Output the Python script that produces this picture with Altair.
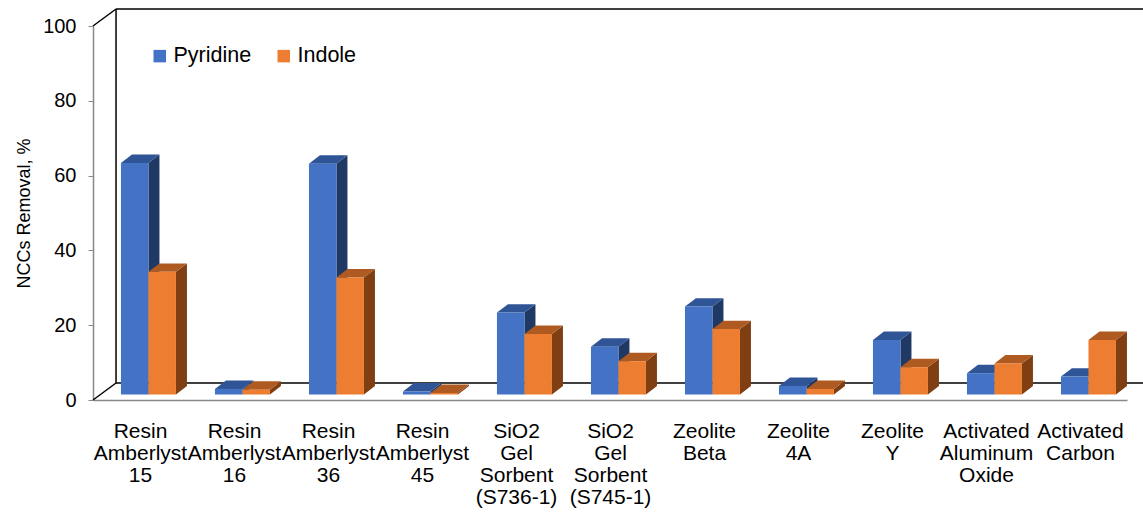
import json

import altair as alt
import pandas as pd

# ---- data -----------------------------------------------------------------
materials = [
    ["Resin", "Amberlyst", "15"],
    ["Resin", "Amberlyst", "16"],
    ["Resin", "Amberlyst", "36"],
    ["Resin", "Amberlyst", "45"],
    ["SiO2", "Gel", "Sorbent", "(S736-1)"],
    ["SiO2", "Gel", "Sorbent", "(S745-1)"],
    ["Zeolite", "Beta"],
    ["Zeolite", "4A"],
    ["Zeolite", "Y"],
    ["Activated", "Aluminum", "Oxide"],
    ["Activated", "Carbon"],
]
series_names = ["Pyridine", "Indole"]
pyridine = [61.9, 1.5, 61.7, 0.8, 21.9, 12.8, 23.5, 2.3, 14.6, 5.7, 4.8]
indole = [32.8, 1.3, 31.3, 0.4, 16.2, 8.9, 17.5, 1.5, 7.3, 8.3, 14.6]
y_ticks = [0, 20, 40, 60, 80, 100]

# ---- 3-D look (oblique projection, in scale units) ---------------------------
BAR_W = 0.2926                    # width of one column (category units)
FRONT_DX, FRONT_DY = 0.090, 1.47  # column front plane, shifted back from axis
DEPTH_DX, DEPTH_DY = 0.117, 2.25  # column depth
WALL_DX, WALL_DY = 0.245, 4.55    # back wall of the plot box
X_MIN, X_MAX = -0.5, 10.5
Y_MAX = 100

front_colors = ["#4472C4", "#ED7D31"]
top_colors = ["#2F5597", "#AE5A21"]
side_colors = ["#203864", "#7F3F13"]
FONT = "Liberation Sans"

fronts, tops, sides = [], [], []
for i in range(len(materials)):
    for s, vals in enumerate([pyridine, indole]):
        v = vals[i]
        x0 = i + FRONT_DX - BAR_W + s * BAR_W
        x1 = x0 + BAR_W
        b = FRONT_DY
        t = b + v
        key = f"f{i}s{s}"
        fronts.append({"series": series_names[s], "x0": x0, "x1": x1, "y0": b, "y1": t})
        # top face: parallelogram written as an area between two polylines
        for k, (xx, hi, lo) in enumerate([
            (x0, t, t),
            (x0 + DEPTH_DX, t + DEPTH_DY, t),
            (x1, t + DEPTH_DY, t),
            (x1 + DEPTH_DX, t + DEPTH_DY, t + DEPTH_DY),
        ]):
            tops.append({"face": key, "s": s, "k": k, "px": xx, "hi": hi, "lo": lo})
        # right side face
        for k, (xx, hi, lo) in enumerate([
            (x1, t, b),
            (x1 + DEPTH_DX, t + DEPTH_DY, b + DEPTH_DY),
        ]):
            sides.append({"face": key, "s": s, "k": k, "px": xx, "hi": hi, "lo": lo})

fronts = pd.DataFrame(fronts)
tops = pd.DataFrame(tops)
sides = pd.DataFrame(sides)

# back wall outline and the two left depth edges
wx0, wx1 = X_MIN + WALL_DX, X_MAX + WALL_DX
wall = pd.DataFrame([
    {"x": wx0, "x2": wx0, "y": WALL_DY, "y2": Y_MAX + WALL_DY},
    {"x": wx0, "x2": wx1, "y": Y_MAX + WALL_DY, "y2": Y_MAX + WALL_DY},
    {"x": wx0, "x2": wx1, "y": WALL_DY, "y2": WALL_DY},
    {"x": X_MIN, "x2": wx0, "y": 0, "y2": WALL_DY},
    {"x": X_MIN, "x2": wx0, "y": Y_MAX, "y2": Y_MAX + WALL_DY},
])

xs = alt.Scale(domain=[X_MIN, X_MAX], nice=False, zero=False)
ys = alt.Scale(domain=[0, Y_MAX], nice=False, zero=False)

label_expr = json.dumps(materials) + "[round(datum.value)]"

x_axis = alt.Axis(
    values=list(range(len(materials))), labelExpr=label_expr, title=None,
    ticks=False, grid=False, labelAngle=0, labelFont=FONT, labelFontSize=21,
    labelColor="#000000", labelLineHeight=22, labelBaseline="top",
    labelPadding=20, labelOverlap=False, labelFlush=False,
    domainColor="#898989", domainWidth=1.5,
)
y_axis = alt.Axis(
    values=y_ticks, title="NCCs Removal, %", titleFont=FONT, titleFontSize=18,
    titleFontWeight="normal", titleColor="#000000", titlePadding=9,
    labelFont=FONT, labelFontSize=20, labelColor="#000000", labelPadding=12,
    tickSize=5, tickColor="#898989", domainColor="#898989", domainWidth=1.5,
    grid=False,
)

walls = alt.Chart(wall).mark_rule(color="#000000", strokeWidth=1.5).encode(
    x=alt.X("x:Q", scale=xs, axis=x_axis),
    x2="x2:Q",
    y=alt.Y("y:Q", scale=ys, axis=y_axis),
    y2="y2:Q",
)


def face_layer(df, s, colour):
    """One polygon per column face, drawn as an area between two polylines."""
    return (
        alt.Chart(df[df["s"] == s].reset_index(drop=True))
        .mark_area(fill=colour, orient="vertical", interpolate="linear")
        .encode(
            x=alt.X("px:Q", scale=xs),
            y=alt.Y("hi:Q", scale=ys),
            y2=alt.Y2("lo:Q"),
            detail=alt.Detail("face:N"),
        )
    )


side_faces = [face_layer(sides, s, side_colors[s]) for s in range(2)]
top_faces = [face_layer(tops, s, top_colors[s]) for s in range(2)]

front_faces = alt.Chart(fronts).mark_rect(strokeWidth=0).encode(
    x=alt.X("x0:Q", scale=xs),
    x2="x1:Q",
    y=alt.Y("y0:Q", scale=ys),
    y2="y1:Q",
    fill=alt.Fill(
        "series:N",
        scale=alt.Scale(domain=series_names, range=front_colors),
        legend=alt.Legend(
            title=None, orient="none", legendX=56, legendY=19,
            direction="horizontal", symbolType="square", symbolSize=156,
            symbolStrokeWidth=0, labelFont=FONT, labelFontSize=21.5,
            labelColor="#000000", labelOffset=3, columnPadding=21, padding=0,
        ),
    ),
)

chart = (
    alt.layer(walls, *side_faces, *top_faces, front_faces)
    .properties(
        width=1034, height=374,
        autosize=alt.AutoSizeParams(type="none"),
        padding={"left": 93, "top": 26, "right": 16, "bottom": 116},
        background="#ffffff",
    )
    .configure_view(stroke=None)
)

chart.save("out.html", embed_options={"renderer": "svg", "actions": False})
